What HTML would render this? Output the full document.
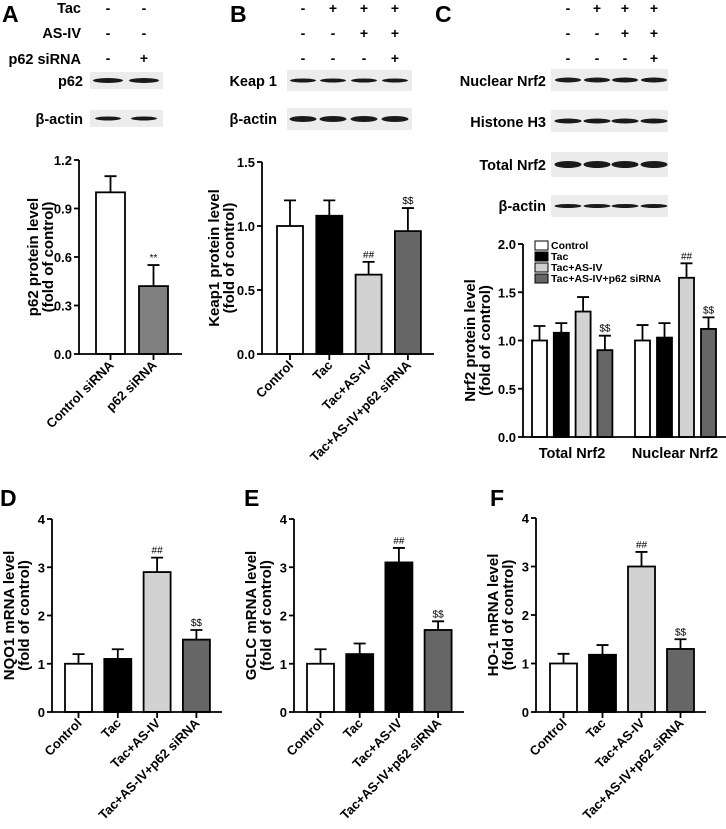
<!DOCTYPE html>
<html><head><meta charset="utf-8"><style>
html,body{margin:0;padding:0;background:#fff}
svg{display:block;font-family:"Liberation Sans",Arial,sans-serif;font-weight:bold}
</style></head><body>
<svg id="fig" width="726" height="829" viewBox="0 0 726 829" xmlns="http://www.w3.org/2000/svg">
<g id="static">
<text x="2" y="22" font-size="23">A</text>
<text x="230" y="22" font-size="23">B</text>
<text x="435" y="22" font-size="23">C</text>
<text x="0" y="506" font-size="23">D</text>
<text x="244" y="506" font-size="23">E</text>
<text x="490" y="506" font-size="23">F</text>
<g font-size="14.5" text-anchor="end">
<text x="81" y="13">Tac</text>
<text x="81" y="38">AS-IV</text>
<text x="81" y="64">p62 siRNA</text>
<text x="83" y="86">p62</text>
<text x="83" y="124">β-actin</text>
<text x="277" y="86">Keap 1</text>
<text x="277" y="124">β-actin</text>
<text x="546" y="86">Nuclear Nrf2</text>
<text x="546" y="127">Histone H3</text>
<text x="546" y="170">Total Nrf2</text>
<text x="546" y="211">β-actin</text>
</g>
<g font-size="10.5">
<rect x="535" y="241" width="13" height="9" fill="#fff" stroke="#000" stroke-width="1"/>
<text x="551" y="249">Control</text>
<rect x="535" y="252" width="13" height="9" fill="#000" stroke="#000"/>
<text x="551" y="260">Tac</text>
<rect x="535" y="263" width="13" height="9" fill="#cfcfcf" stroke="#000"/>
<text x="551" y="271">Tac+AS-IV</text>
<rect x="535" y="274" width="13" height="9" fill="#666" stroke="#000"/>
<text x="551" y="282">Tac+AS-IV+p62 siRNA</text>
</g>
</g>
</svg>
<script>
// ---- data ----
var signsA = [["-","-"],["-","-"],["-","+"]];
var signsBC = [["-","+","+","+"],["-","-","+","+"],["-","-","-","+"]];
var catsA = ["Control siRNA","p62 siRNA"];
var cats4 = ["Control","Tac","Tac+AS-IV","Tac+AS-IV+p62 siRNA"];
var catsC = ["Total Nrf2","Nuclear Nrf2"];
var valsA = [1.0, 0.42];
var errA = [0.10, 0.13];
var markA = ["", "**"];
var valsB = [1.0, 1.08, 0.62, 0.96];
var errB = [0.20, 0.12, 0.10, 0.18];
var markB = ["", "", "##", "$$"];
var valsCTotal = [1.0, 1.08, 1.30, 0.90];
var errCTotal = [0.15, 0.10, 0.15, 0.15];
var markCTotal = ["", "", "", "$$"];
var valsCNuclear = [1.0, 1.03, 1.65, 1.12];
var errCNuclear = [0.16, 0.15, 0.15, 0.12];
var markCNuclear = ["", "", "##", "$$"];
var valsD = [1.0, 1.1, 2.9, 1.5];
var errD = [0.2, 0.2, 0.3, 0.2];
var valsE = [1.0, 1.2, 3.1, 1.7];
var errE = [0.3, 0.22, 0.3, 0.18];
var valsF = [1.0, 1.18, 3.0, 1.3];
var errF = [0.2, 0.2, 0.3, 0.2];
var mark4 = ["", "", "##", "$$"];
var ticksA = [0, 0.3, 0.6, 0.9, 1.2];
var tickLabelsA = ["0.0","0.3","0.6","0.9","1.2"];
var ticksB = [0, 0.5, 1.0, 1.5];
var tickLabelsB = ["0.0","0.5","1.0","1.5"];
var ticksC = [0, 0.5, 1.0, 1.5, 2.0];
var tickLabelsC = ["0.0","0.5","1.0","1.5","2.0"];
var ticksM = [0, 1, 2, 3, 4];
var tickLabelsM = ["0","1","2","3","4"];

var NS = "http://www.w3.org/2000/svg";
var svg = document.getElementById("fig");
function mk(tag, attrs, parent) {
  var e = document.createElementNS(NS, tag);
  for (var k in attrs) e.setAttribute(k, attrs[k]);
  (parent || svg).appendChild(e);
  return e;
}
function txt(x, y, s, size, anchor, extra) {
  var t = mk("text", {x: x, y: y, "font-size": size, "text-anchor": anchor || "start"});
  if (extra) t.setAttribute("transform", extra);
  t.textContent = s;
  return t;
}

function signs(rows, xs, ys, name) {
  rows.forEach(function (r, i) {
    r.forEach(function (s, j) {
      var t = txt(xs[j], ys[i], s, 14, "middle");
      
      
    });
  });
}
signs(signsA, [108, 144], [13, 38, 63], "treatment-a");
signs(signsBC, [303, 333, 364, 395], [13, 38, 63], "treatment-b");
signs(signsBC, [568, 597, 625, 654], [13, 38, 63], "treatment-c");

function blot(x, y, w, h, bandXs, bandW, bandH, name) {
  var r = mk("rect", {x: x, y: y, width: w, height: h, fill: "#ececec"});
  
  
  bandXs.forEach(function (bx) {
    var e = mk("ellipse", {cx: bx, cy: y + h / 2, rx: bandW / 2, ry: bandH / 2, fill: "#1a1a1a"});
    
    
  });
}
blot(90, 72, 73, 17, [108, 144], 30, 5, "blot-p62");
blot(90, 110, 73, 17, [108, 144], 26, 4, "blot-bactin-a");
blot(287, 70, 125, 21, [303, 333, 364, 395], 26, 4, "blot-keap1");
blot(287, 108, 125, 22, [303, 333, 364, 395], 27, 6, "blot-bactin-b");
blot(551, 69, 117, 22, [568, 597, 625, 654], 26, 5, "blot-nuclear-nrf2");
blot(551, 110, 117, 22, [568, 597, 625, 654], 27, 5, "blot-histone");
blot(551, 152, 117, 25, [568, 597, 625, 654], 27, 7, "blot-total-nrf2");
blot(551, 195, 117, 22, [568, 597, 625, 654], 27, 4, "blot-bactin-c");

function chart(o) {
  var yScale = function (v) { return o.y0 - (v / o.yMax) * (o.y0 - o.yTop); };
  var g = mk("g", {});
  
  
  o.series.forEach(function (s) {
    s.vals.forEach(function (v, i) {
      var x = s.x0 + i * s.step, w = s.w, cx = x + w / 2;
      var top = yScale(v), et = yScale(v + s.err[i]);
      var eb = mk("path", {d: "M" + cx + " " + top + "V" + et + "M" + (cx - 6) + " " + et + "H" + (cx + 6), stroke: "#000", "stroke-width": 1.8, fill: "none"}, g);
      
      
      var r = mk("rect", {x: x, y: top, width: w, height: o.y0 - top, fill: s.colors[i], stroke: "#000", "stroke-width": 1.8}, g);
      
      
      if (s.marks && s.marks[i]) {
        var m = mk("text", {x: cx, y: et - 4, "font-size": 10, "text-anchor": "middle", "font-weight": "normal"}, g);
        m.textContent = s.marks[i];
        
        
      }
      if (o.rotLabels && s.labels) {
        var tk = mk("line", {x1: cx, y1: o.y0, x2: cx, y2: o.y0 + 6, stroke: "#000", "stroke-width": 1.8}, g);
        
        
        var lx = cx + 4, ly = o.y0 + 12;
        var l = mk("text", {x: lx, y: ly, "font-size": 13, "text-anchor": "end", transform: "rotate(-45 " + lx + " " + ly + ")"}, g);
        l.textContent = s.labels[i];
        
        
      }
    });
  });
  var ax = mk("path", {d: "M" + o.ax + " " + o.yTop + "V" + o.y0 + "H" + o.axEnd, stroke: "#000", "stroke-width": 1.8, fill: "none"}, g);
  
  
  o.ticks.forEach(function (t, i) {
    var y = yScale(t);
    var tl = mk("line", {x1: o.ax - 5, y1: y, x2: o.ax, y2: y, stroke: "#000", "stroke-width": 1.8}, g);
    
    
    var l = mk("text", {x: o.ax - 7, y: y + 5, "font-size": 13, "text-anchor": "end"}, g);
    l.textContent = o.tickLabels[i];
    
    
  });
  var cy = (o.yTop + o.y0) / 2;
  o.title.forEach(function (line, i) {
    var x = o.titleX + i * 15;
    var t = mk("text", {x: x, y: cy, "font-size": 15, "text-anchor": "middle", transform: "rotate(-90 " + x + " " + cy + ")"}, g);
    t.textContent = line;
    
    
  });
}
var C4 = ["#fff", "#000", "#d2d2d2", "#666"];
chart({name: "chart-a", ax: 79, axEnd: 182, y0: 354, yTop: 160, yMax: 1.2, ticks: ticksA, tickLabels: tickLabelsA, rotLabels: true,
  title: ["p62 protein level", "(fold of control)"], titleX: 38,
  series: [{x0: 96, step: 43, w: 29, vals: valsA, err: errA, marks: markA, colors: ["#fff", "#808080"], labels: catsA}]});
chart({name: "chart-b", ax: 262, axEnd: 434, y0: 354, yTop: 162, yMax: 1.5, ticks: ticksB, tickLabels: tickLabelsB, rotLabels: true,
  title: ["Keap1 protein level", "(fold of control)"], titleX: 219,
  series: [{x0: 277, step: 39.3, w: 26, vals: valsB, err: errB, marks: markB, colors: C4, labels: cats4}]});
chart({name: "chart-c", ax: 523, axEnd: 726, y0: 437, yTop: 244, yMax: 2.0, ticks: ticksC, tickLabels: tickLabelsC, rotLabels: false,
  title: ["Nrf2 protein level", "(fold of control)"], titleX: 475,
  series: [{key: "total-", x0: 532, step: 21.8, w: 15, vals: valsCTotal, err: errCTotal, marks: markCTotal, colors: C4},
           {key: "nuclear-", x0: 635, step: 22, w: 15, vals: valsCNuclear, err: errCNuclear, marks: markCNuclear, colors: C4}]});
catsC.forEach(function (c, i) {
  var t = txt([572, 675][i], 458, c, 14.5, "middle");
  
  
});
chart({name: "chart-d", ax: 52, axEnd: 222, y0: 712, yTop: 519, yMax: 4, ticks: ticksM, tickLabels: tickLabelsM, rotLabels: true,
  title: ["NQO1 mRNA level", "(fold of control)"], titleX: 14,
  series: [{x0: 65, step: 39.3, w: 27, vals: valsD, err: errD, marks: mark4, colors: C4, labels: cats4}]});
chart({name: "chart-e", ax: 294, axEnd: 464, y0: 712, yTop: 519, yMax: 4, ticks: ticksM, tickLabels: tickLabelsM, rotLabels: true,
  title: ["GCLC mRNA level", "(fold of control)"], titleX: 256,
  series: [{x0: 307, step: 39.2, w: 27, vals: valsE, err: errE, marks: mark4, colors: ["#fff", "#000", "#000", "#666"], labels: cats4}]});
chart({name: "chart-f", ax: 536, axEnd: 706, y0: 712, yTop: 518, yMax: 4, ticks: ticksM, tickLabels: tickLabelsM, rotLabels: true,
  title: ["HO-1 mRNA level", "(fold of control)"], titleX: 498,
  series: [{x0: 550, step: 39, w: 27, vals: valsF, err: errF, marks: mark4, colors: C4, labels: cats4}]});
</script>
</body></html>
